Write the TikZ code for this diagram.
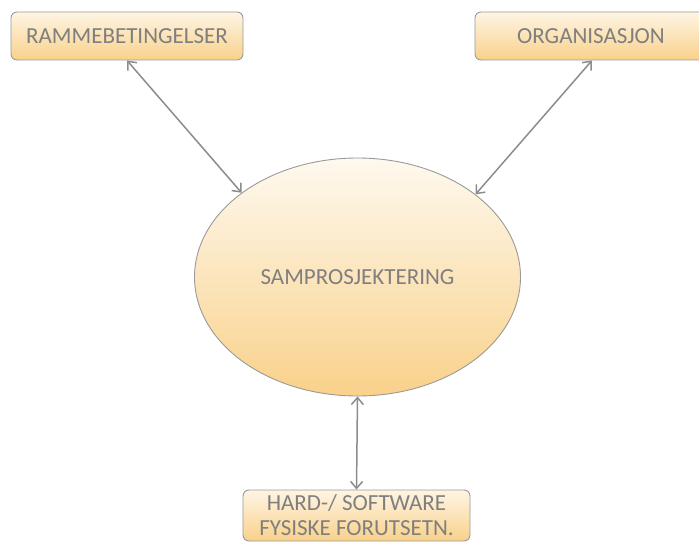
\documentclass[tikz,border=0pt]{standalone}
\usepackage{fontspec}
\setmainfont{Carlito}
\usetikzlibrary{shapes.geometric, arrows.meta}
\definecolor{boxline}{HTML}{9A9A9A}
\definecolor{boxtext}{HTML}{7F7F7F}
\definecolor{filltop}{HTML}{FEF5E4}
\definecolor{fillbot}{HTML}{F9D18A}
\definecolor{arrowgray}{HTML}{8C8C8C}
\begin{document}
\begin{tikzpicture}[
  x=1pt, y=1pt,
  topic/.style={draw=boxline, line width=0.9pt, rounded corners=6pt,
    top color=filltop, bottom color=fillbot, text=boxtext,
    font=\fontsize{23}{25}\selectfont, minimum width=232, minimum height=48,
    inner sep=0pt, align=center},
  core/.style={ellipse, draw=boxline, line width=0.9pt,
    top color=filltop!60!white, bottom color=fillbot, text=boxtext,
    font=\fontsize{23}{25}\selectfont, minimum width=326, minimum height=238,
    inner sep=0pt},
  link/.style={<->, >={Straight Barb[length=7pt, width=12pt]},
    draw=arrowgray, line width=1.5pt}
]
  \clip (0,0) rectangle (699,542);

  % === Nodes ===
  \node[topic] (rammer) at (127,506) {RAMMEBETINGELSER};
  \node[topic] (org) at (591,506) {ORGANISASJON};
  \node[core] (samp) at (357.5,265) {SAMPROSJEKTERING};
  \node[topic, minimum width=227, minimum height=51] (hard) at (356.5,26.5)
    {HARD-/ SOFTWARE\\FYSISKE FORUTSETN.};

  % === Connectors ===
  \draw[link] (rammer.south) -- (samp.144);
  \draw[link] ([xshift=1pt]org.south) -- (samp.35);
  \draw[link] (samp.south) -- (hard.north);
\end{tikzpicture}
\end{document}
